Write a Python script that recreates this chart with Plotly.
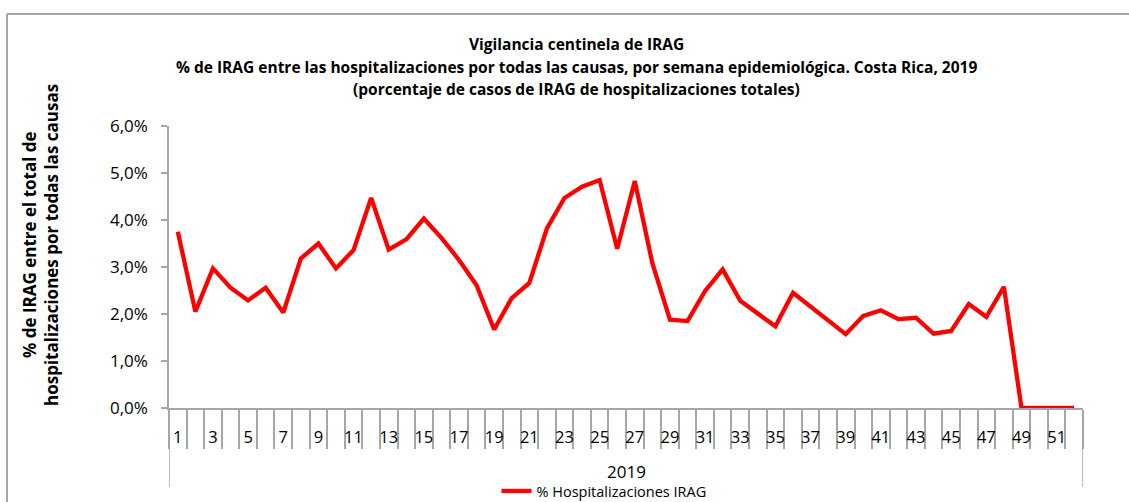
import plotly.graph_objects as go

weeks = list(range(1, 53))
pct_irag = [3.75, 2.05, 2.97, 2.56, 2.29, 2.56, 2.03, 3.18, 3.50, 2.97,
            3.36, 4.47, 3.37, 3.59, 4.03, 3.62, 3.15, 2.61, 1.67, 2.34,
            2.66, 3.82, 4.47, 4.71, 4.85, 3.39, 4.83, 3.08, 1.88, 1.85,
            2.49, 2.95, 2.28, 2.01, 1.74, 2.45, 2.16, 1.87, 1.57, 1.96,
            2.08, 1.89, 1.92, 1.58, 1.64, 2.21, 1.94, 2.58, 0.0, 0.0,
            0.0, 0.0]
tick_weeks = [w for w in weeks if w % 2 == 1]
year_label = "2019"
series_name = "% Hospitalizaciones IRAG"
title_lines = [
    "Vigilancia centinela de IRAG",
    "% de IRAG entre las hospitalizaciones por todas las causas, por semana epidemiológica. Costa Rica, 2019",
    "(porcentaje de casos de IRAG de hospitalizaciones totales)",
]
ytitle_lines = ["% de IRAG entre el total de", "hospitalizaciones por todas las causas"]

W, H = 1129, 502
L, R, T, B = 169, 46, 126, 94
pw, ph = W - L - R, H - T - B
FONT = "Open Sans"
GRAY = "#A6A6A6"

def px(xpix):
    return (xpix - L) / pw

def py(ypix):
    return (H - B - ypix) / ph

fig = go.Figure()
fig.add_trace(go.Scatter(x=weeks, y=pct_irag, mode="lines", name=series_name,
                         line=dict(color="#FF0000", width=4.3)))

annotations = []
for ty, txt in zip([44, 67, 89], title_lines):
    annotations.append(dict(text="<b>%s</b>" % txt, xref="paper", yref="paper",
                            x=px(576), y=py(ty), xanchor="center", yanchor="middle",
                            showarrow=False, font=dict(family=FONT, size=15.5, color="black")))
for tx, txt in zip([29, 51], ytitle_lines):
    annotations.append(dict(text="<b>%s</b>" % txt, xref="paper", yref="paper",
                            x=px(tx), y=py(245), xanchor="center", yanchor="middle",
                            textangle=-90, showarrow=False,
                            font=dict(family=FONT, size=17, color="black")))
annotations.append(dict(text=year_label, xref="paper", yref="paper", x=0.5, y=py(472),
                        xanchor="center", yanchor="middle", showarrow=False,
                        font=dict(family=FONT, size=17, color="black")))

x_lo, x_hi = weeks[0] - 0.5, weeks[-1] + 0.5
shapes = []
for xv in (x_lo, x_hi):
    shapes.append(dict(type="line", xref="x", yref="paper", x0=xv, x1=xv,
                       y0=0, y1=py(487), line=dict(color=GRAY, width=1.5)))
# outer chart border (left and top)
shapes.append(dict(type="line", xref="paper", yref="paper", x0=px(7), x1=px(7),
                   y0=py(14), y1=py(520), line=dict(color=GRAY, width=2)))
shapes.append(dict(type="line", xref="paper", yref="paper", x0=px(7), x1=px(1140),
                   y0=py(14), y1=py(14), line=dict(color=GRAY, width=2)))

fig.update_layout(
    width=W, height=H,
    margin=dict(l=L, r=R, t=T, b=B, pad=0, autoexpand=False),
    paper_bgcolor="white", plot_bgcolor="white",
    separators=",.",
    font=dict(family=FONT, color="black"),
    showlegend=True,
    legend=dict(orientation="h", x=px(604), y=py(491), xanchor="center", yanchor="middle",
                font=dict(family=FONT, size=14.5, color="black"), bgcolor="rgba(0,0,0,0)",
                itemwidth=30),
    annotations=annotations,
    shapes=shapes,
)
fig.update_xaxes(
    range=[x_lo, x_hi], showgrid=False, zeroline=False,
    showline=True, linecolor=GRAY, linewidth=1.5,
    tickmode="array", tickvals=tick_weeks, ticktext=[str(w) for w in tick_weeks],
    ticks="", ticklabelstandoff=13,
    tickfont=dict(family=FONT, size=16.5, color="black"),
    minor=dict(tickmode="linear", tick0=0.5, dtick=1, ticks="outside", ticklen=39,
               tickcolor=GRAY, tickwidth=1.5, showgrid=False),
)
fig.update_yaxes(
    range=[0, 6], showgrid=False, zeroline=False,
    showline=True, linecolor=GRAY, linewidth=1.5,
    tickmode="linear", tick0=0, dtick=1, tickformat=".1f", ticksuffix="%",
    ticks="outside", ticklen=6, tickcolor=GRAY, tickwidth=1.5,
    ticklabelstandoff=10,
    tickfont=dict(family=FONT, size=17, color="black"),
)

fig.write_html("out.html", config={"displayModeBar": False},
               post_script="document.body.style.margin='0px';")
